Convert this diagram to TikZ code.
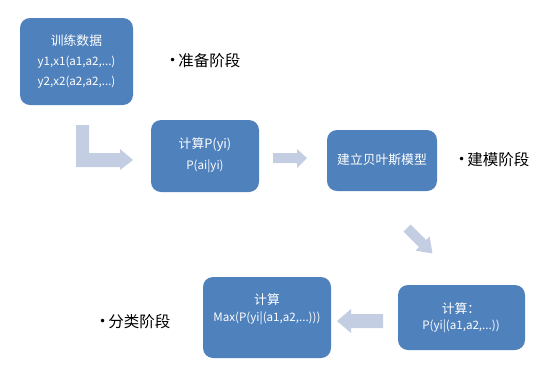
\documentclass[tikz,border=0pt]{standalone}
\usepackage{fontspec}
\setmainfont{Noto Sans CJK SC}
\newfontfamily\dvfont{DejaVu Sans}
\definecolor{boxblue}{HTML}{4F81BD}
\definecolor{arrowgray}{HTML}{C4CEE2}
\tikzset{
  bluebox/.style={fill=boxblue, draw=none, rounded corners=10pt},
  boxtext/.style={text=white, font=\fontsize{11.6}{14}\selectfont, inner sep=0pt, anchor=center},
  boxtextcn/.style={text=white, font=\fontsize{12.8}{14}\selectfont, inner sep=0pt, anchor=center},
  stagetext/.style={text=black, font=\fontsize{15.5}{17}\selectfont, inner sep=0pt, anchor=west},
  fatarrow/.style={fill=arrowgray, draw=none}
}
\newcommand{\stagebullet}{\raisebox{2.2pt}{\dvfont\fontsize{12}{12}\selectfont •}\hspace{2pt}}
\begin{document}
\begin{tikzpicture}[x=1pt,y=-1pt]
\useasboundingbox (0,0) rectangle (547,376);
% boxes
\fill[bluebox] (20,18) rectangle (133,105);
\fill[bluebox] (151,120) rectangle (259,192);
\fill[bluebox] (327,130) rectangle (437,191);
\fill[bluebox] (203,277) rectangle (331,358);
\fill[bluebox] (398,285) rectangle (525,350);
% box texts
\node[boxtextcn] (b1a) at (76.5,41) {训练数据};
\node[boxtext] (b1b) at (76.5,62) {y1,x1(a1,a2,...)};
\node[boxtext] (b1c) at (76.5,82) {y2,x2(a2,a2,...)};
\node[boxtextcn] (b2a) at (205,145) {计算P(yi)};
\node[boxtext] (b2b) at (205,166) {P(ai|yi)};
\node[boxtextcn] (b3a) at (382,160) {建立贝叶斯模型};
\node[boxtextcn] (b4a) at (267,300) {计算};
\node[boxtext] (b4b) at (267,318) {Max(P(yi|(a1,a2,...)))};
\node[boxtextcn] (b5a) at (461,309) {计算：};
\node[boxtext] (b5b) at (461,326) {P(yi|(a1,a2,...))};
% stage labels
\node[stagetext] (s1) at (169,61) {\stagebullet 准备阶段};
\node[stagetext] (s2) at (458,160) {\stagebullet 建模阶段};
\node[stagetext] (s3) at (99,322) {\stagebullet 分类阶段};
% arrows
\fill[fatarrow] (76,125) -- (89,125) -- (89,153) -- (120,153) -- (120,149) -- (133,160) -- (120,170) -- (120,167) -- (76,167) -- cycle;
\fill[fatarrow] (273,153) -- (297,153) -- (297,149) -- (307,158) -- (297,168) -- (297,163) -- (273,163) -- cycle;
\fill[fatarrow] (383,314) -- (351,314) -- (351,309) -- (337,321) -- (351,333) -- (351,328) -- (383,328) -- cycle;
\begin{scope}[shift={(407,228)}, rotate=-45]
\fill[fatarrow] (0,-5) -- (22,-5) -- (22,-10) -- (36,0) -- (22,10) -- (22,5) -- (0,5) -- cycle;
\end{scope}
\end{tikzpicture}
\end{document}
